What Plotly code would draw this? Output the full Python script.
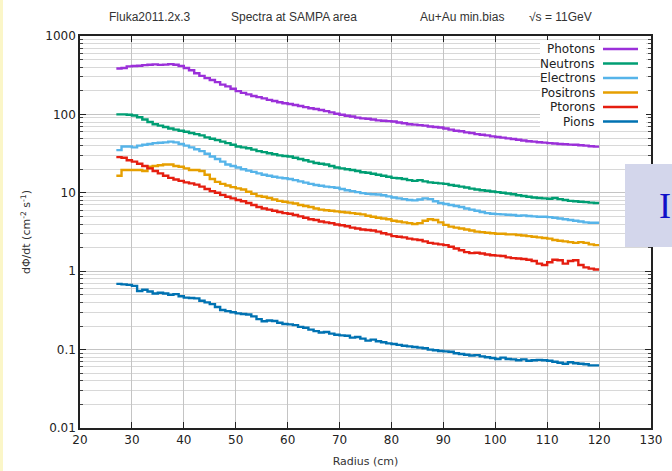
import plotly.graph_objects as go

# bin left edges 27..119 (1 cm bins), last edge 120
radius = list(range(27, 121))

photons = [385, 390, 410,
           415, 418, 425, 430, 435, 428, 432, 438, 430, 415,
           390, 365, 335, 310, 290, 275, 258, 240, 228, 212,
           198, 188, 180, 172, 166, 160, 153, 148, 143, 139,
           136, 132, 128, 124, 120, 117, 114, 110, 106, 102,
           99, 96, 94, 91, 89, 88, 86, 84, 83, 82,
           81, 79, 77, 75, 74, 73, 72, 70, 69, 68,
           66, 64, 62, 61, 59, 58, 56, 55, 54, 52.5,
           51.5, 50.5, 49.5, 48.5, 47.5, 46.5, 45.5, 45, 44.2, 43.6,
           43, 42.5, 42, 41.6, 41.2, 41, 40.5, 40, 39.3, 38.8]

neutrons = [100, 100, 99,
            97, 92, 86, 80, 75, 72, 69, 66, 64, 62,
            60, 58, 56, 54, 51, 49, 47, 45, 43, 41,
            39, 38, 37, 35.5, 34, 33, 32, 31, 30, 29.5,
            29, 28, 27, 26, 25, 24, 23.5, 23, 22, 21,
            20.5, 20, 19.5, 19, 18.3, 18, 17.5, 17, 16.5, 16,
            15.5, 15.3, 15, 14.5, 14.2, 14.5, 14, 13.6, 13.4, 13.2,
            13, 12.6, 12.3, 12, 11.7, 11.3, 11, 10.8, 10.6, 10.4,
            10.2, 10, 9.8, 9.6, 9.3, 9.1, 8.9, 8.7, 8.6, 8.5,
            8.4, 8.6, 8.3, 8.1, 7.9, 7.8, 7.7, 7.6, 7.5, 7.4]

electrons = [35, 39, 39,
             38, 40, 41, 42, 43, 43.5, 44, 45, 44, 42,
             40, 38, 36, 34, 31.5, 29, 27, 25, 23, 22,
             21, 20, 19.2, 18.5, 17.7, 17, 16.5, 16, 15.6, 15.3,
             15, 14.5, 14, 13.5, 13, 12.6, 12.3, 12, 11.8, 11.6,
             11.2, 10.8, 10.5, 10.2, 9.9, 9.7, 9.6, 9.5, 9.3, 9,
             8.7, 8.5, 8.3, 8.1, 8, 8.2, 8.5, 8.3, 7.8, 7.4,
             7.2, 7, 6.8, 6.6, 6.3, 6.1, 5.9, 5.7, 5.5, 5.4,
             5.35, 5.3, 5.25, 5.2, 5.1, 5.15, 5.05, 5.0, 4.95, 4.95,
             4.9, 4.8, 4.7, 4.6, 4.5, 4.4, 4.3, 4.2, 4.15, 4.15]

positrons = [16.5, 19.5, 19.5,
             19.5, 19.5, 19, 21.5, 22, 22.5, 23, 23, 22, 21.5,
             20.5, 19.5, 19.5, 19, 17, 15, 13.8, 13, 12.4, 11.8,
             11.4, 11, 10.3, 9.7, 9.1, 8.9, 8.6, 8.2, 7.9, 7.7,
             7.5, 7.3, 7, 6.8, 6.6, 6.3, 6.1, 6, 5.9, 5.8,
             5.7, 5.6, 5.5, 5.4, 5.3, 5.1, 4.95, 4.8, 4.7, 4.6,
             4.4, 4.3, 4.2, 4.1, 4.0, 4.1, 4.4, 4.6, 4.5, 4.2,
             3.9, 3.7, 3.6, 3.5, 3.4, 3.3, 3.2, 3.15, 3.1, 3.05,
             3.0, 3.0, 2.95, 2.95, 2.9, 2.85, 2.8, 2.75, 2.7, 2.65,
             2.6, 2.5, 2.45, 2.4, 2.35, 2.3, 2.35, 2.3, 2.2, 2.15]

ptorons = [28.5, 28, 26,
           25, 23.5, 22, 20.5, 19, 17.7, 16.5, 15.5, 14.8, 14.2,
           13.6, 13.2, 12.7, 12, 11.2, 10.5, 10, 9.4, 8.9, 8.5,
           8.1, 7.8, 7.4, 7, 6.6, 6.3, 6.1, 5.9, 5.7, 5.5,
           5.4, 5.2, 5, 4.8, 4.6, 4.5, 4.3, 4.2, 4.1, 3.95,
           3.85, 3.75, 3.6, 3.5, 3.4, 3.35, 3.3, 3.2, 3.05, 2.95,
           2.8, 2.75, 2.7, 2.6, 2.55, 2.5, 2.4, 2.3, 2.25, 2.2,
           2.15, 2.05, 1.95, 1.85, 1.75, 1.7, 1.72, 1.68, 1.63, 1.6,
           1.58, 1.56, 1.5, 1.47, 1.45, 1.43, 1.4, 1.35, 1.25, 1.2,
           1.3, 1.4, 1.38, 1.25, 1.35, 1.38, 1.2, 1.12, 1.08, 1.05]

pions = [0.69, 0.68, 0.67,
         0.65, 0.56, 0.58, 0.55, 0.52, 0.53, 0.52, 0.50, 0.51, 0.48,
         0.46, 0.455, 0.45, 0.42, 0.40, 0.38, 0.35, 0.32, 0.31, 0.30,
         0.29, 0.285, 0.28, 0.265, 0.245, 0.23, 0.235, 0.232, 0.22, 0.212,
         0.21, 0.205, 0.195, 0.19, 0.18, 0.172, 0.165, 0.168, 0.16, 0.155,
         0.152, 0.15, 0.142, 0.145, 0.138, 0.13, 0.134, 0.128, 0.124, 0.12,
         0.118, 0.115, 0.112, 0.11, 0.108, 0.106, 0.104, 0.1, 0.098, 0.096,
         0.095, 0.094, 0.09, 0.088, 0.086, 0.084, 0.085, 0.082, 0.08, 0.078,
         0.076, 0.079, 0.076, 0.075, 0.073, 0.075, 0.072, 0.073, 0.074, 0.073,
         0.072, 0.07, 0.068, 0.066, 0.069, 0.067, 0.066, 0.065, 0.063, 0.063]

series_names = ["Photons", "Neutrons", "Electrons", "Positrons", "Ptorons", "Pions"]
series_values = [photons, neutrons, electrons, positrons, ptorons, pions]
series_colors = ["#9b30d9", "#009e73", "#56b4e9", "#e69f00", "#e51e10", "#0072b2"]

x_ticks = list(range(20, 131, 10))
y_tickvals = [0.01, 0.1, 1, 10, 100, 1000]
y_ticktext = ["0.01", "0.1", "1", "10", "100", "1000"]

fig = go.Figure()
for name, vals, col in zip(series_names, series_values, series_colors):
    fig.add_trace(go.Scatter(
        x=radius, y=vals + [vals[-1]], mode="lines", name=name,
        line=dict(color=col, width=2.4, shape="hv"), showlegend=False))

L, R, T, B = 80, 21, 36, 43
W, H = 672, 471
pw, ph = W - L - R, H - T - B

def px(xp):
    return (xp - L) / pw

def py(yp):
    return (H - B - yp) / ph

shapes = []
annotations = []

# legend (gnuplot style: text right, sample line to the right)
shapes.append(dict(type="rect", xref="paper", yref="paper", layer="above",
                   x0=px(540), x1=px(646), y0=py(131), y1=py(40),
                   fillcolor="white", line=dict(width=0)))
for i, (name, col) in enumerate(zip(series_names, series_colors)):
    yy = 49 + i * 14.5
    annotations.append(dict(xref="paper", yref="paper", x=px(597), y=py(yy),
                            text=name, showarrow=False, xanchor="right", yanchor="middle",
                            font=dict(family="DejaVu Sans", size=12, color="#222")))
    shapes.append(dict(type="line", xref="paper", yref="paper", layer="above",
                       x0=px(603), x1=px(638), y0=py(yy), y1=py(yy),
                       line=dict(color=col, width=2.4)))

# header texts
for txt, cx in [("Fluka2011.2x.3", 149), ("Spectra at SAMPA area", 294),
                ("Au+Au min.bias", 462), ("\u221As = 11GeV", 560)]:
    annotations.append(dict(xref="paper", yref="paper", x=px(cx), y=py(17),
                            text=txt, showarrow=False, xanchor="center", yanchor="middle",
                            font=dict(family="Liberation Sans", size=12, color="#333")))

# slide overlay box on right
shapes.append(dict(type="rect", xref="paper", yref="paper", layer="above",
                   x0=px(625), x1=px(673), y0=py(247), y1=py(164),
                   fillcolor="#d3d6eb", line=dict(width=0)))
annotations.append(dict(xref="paper", yref="paper", x=px(673), y=py(206),
                        text="I", showarrow=False, xanchor="right", yanchor="middle",
                        font=dict(family="Liberation Serif", size=36, color="#1010c8")))
# yellowish left edge
shapes.append(dict(type="rect", xref="paper", yref="paper", layer="above",
                   x0=px(-1), x1=px(3), y0=py(472), y1=py(-1),
                   fillcolor="#fbf6c8", line=dict(width=0)))

fig.update_layout(
    width=W, height=H,
    margin=dict(l=L, r=R, t=T, b=B, autoexpand=False),
    paper_bgcolor="white", plot_bgcolor="white",
    shapes=shapes, annotations=annotations,
    xaxis=dict(range=[20, 130], tickvals=x_ticks, ticks="inside", ticklen=6,
               tickcolor="#222", mirror="ticks", showline=True, linecolor="#222",
               linewidth=1.5, showgrid=True, gridcolor="#c4c4c4", gridwidth=1,
               zeroline=False, automargin=False,
               tickfont=dict(family="DejaVu Sans", size=12, color="#222"),
               title=dict(text="Radius (cm)", standoff=11,
                          font=dict(family="DejaVu Sans", size=11, color="#333"))),
    yaxis=dict(type="log", range=[-2, 3], tickvals=y_tickvals, ticktext=y_ticktext,
               ticks="inside", ticklen=6, tickcolor="#222", mirror="allticks",
               showline=True, linecolor="#222", linewidth=1.5,
               showgrid=True, gridcolor="#c4c4c4", gridwidth=1, zeroline=False,
               automargin=False,
               minor=dict(dtick="D1", ticks="inside", ticklen=3, tickcolor="#444",
                          showgrid=True, gridcolor="#d8d8d8", gridwidth=1),
               tickfont=dict(family="DejaVu Sans", size=12, color="#222"),
               title=dict(text="d\u03A6/dt (cm<sup>-2</sup> s<sup>-1</sup>)", standoff=12,
                          font=dict(family="DejaVu Sans", size=11, color="#333"))),
)

fig.write_html("out.html", config={"displayModeBar": False},
               post_script="document.body.style.margin='0';document.body.style.overflow='hidden';")
